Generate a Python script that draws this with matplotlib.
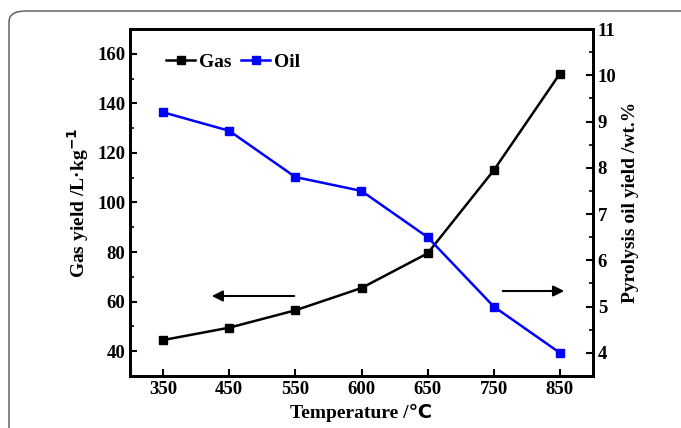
import matplotlib
matplotlib.use("Agg")
import matplotlib.pyplot as plt
from matplotlib.patches import FancyBboxPatch
from matplotlib.ticker import MultipleLocator

plt.rcParams['font.family'] = ['Liberation Serif', 'DejaVu Sans']
plt.rcParams['font.weight'] = 'bold'
plt.rcParams['mathtext.default'] = 'bf'

temps = ["350", "450", "550", "600", "650", "750", "850"]
gas = [44.5, 49.5, 56.5, 65.5, 79.5, 113, 152]
oil = [9.2, 8.8, 7.8, 7.5, 6.5, 5.0, 4.0]

x = list(range(len(temps)))

fig = plt.figure(figsize=(6.81, 4.28), dpi=100)
ax1 = fig.add_axes([130 / 681, 1 - 376 / 428, 463 / 681, 347 / 428])

# outer rounded frame
frame = FancyBboxPatch((9 / 681, -0.2), 1.2, 1.2 - 11 / 428,
                       boxstyle="round,pad=0,rounding_size=0.025",
                       transform=fig.transFigure, fill=False,
                       ec="#555555", lw=1.0, clip_on=False)
fig.patches.append(frame)

l1, = ax1.plot(x, gas, color="black", marker="s", ms=5.5, lw=1.8, label="Gas")
ax1.set_xlim(-0.5, 6.5)
ax1.set_ylim(30, 170)
ax1.set_xticks(x)
ax1.set_xticklabels(temps)
ax1.yaxis.set_major_locator(MultipleLocator(20))
ax1.yaxis.set_minor_locator(MultipleLocator(10))
ax1.set_ylabel("Gas yield /L·kg$^{-1}$", fontsize=14, fontweight="bold")
ax1.set_xlabel("Temperature /℃", fontsize=14, fontweight="bold")

ax2 = ax1.twinx()
l2, = ax2.plot(x, oil, color="#0000ff", marker="s", ms=5.5, lw=1.8, label="Oil")
ax2.set_ylim(3.5, 11)
ax2.yaxis.set_major_locator(MultipleLocator(1))
ax2.yaxis.set_minor_locator(MultipleLocator(0.5))
ax2.set_ylabel("Pyrolysis oil yield /wt.%", fontsize=14, fontweight="bold")

for ax in (ax1, ax2):
    for s in ax.spines.values():
        s.set_linewidth(2)
    ax.tick_params(direction="in", width=1.5, length=5, labelsize=13.5)
    ax.tick_params(which="minor", direction="in", width=1.2, length=3)
ax1.tick_params(right=False, top=False)
ax1.tick_params(axis="x", which="minor", bottom=False)
ax2.tick_params(left=False, top=False)

ax1.legend(handles=[l1, l2], loc="upper left", ncol=2, frameon=False,
           handlelength=1.5, handletextpad=0.2, columnspacing=0.5,
           prop={"size": 14, "weight": "bold"}, bbox_to_anchor=(0.04, 0.98))

ax1.annotate("", xy=(209 / 681, 1 - 296 / 428), xytext=(297 / 681, 1 - 296 / 428),
             xycoords="figure fraction", textcoords="figure fraction",
             arrowprops=dict(arrowstyle="-|>", color="black", lw=1.5,
                             mutation_scale=16))
ax1.annotate("", xy=(567 / 681, 1 - 291 / 428), xytext=(500 / 681, 1 - 291 / 428),
             xycoords="figure fraction", textcoords="figure fraction",
             arrowprops=dict(arrowstyle="-|>", color="black", lw=1.5,
                             mutation_scale=16))

fig.savefig("out.png", dpi=100)
